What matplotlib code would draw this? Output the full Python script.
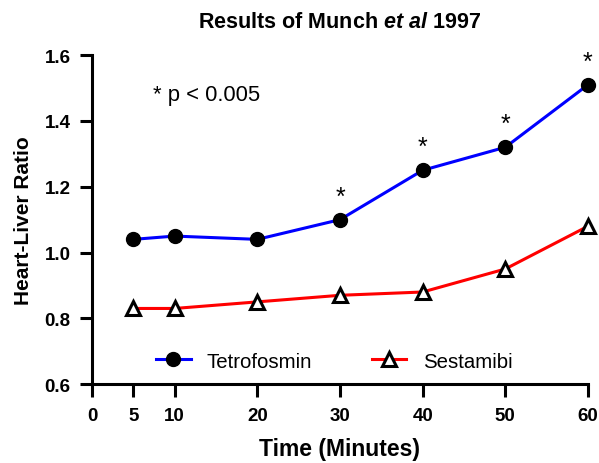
import matplotlib
matplotlib.use("Agg")
import matplotlib.pyplot as plt

plt.rcParams['font.family'] = ['Liberation Sans', 'DejaVu Sans']
plt.rcParams['mathtext.fontset'] = 'custom'
plt.rcParams['mathtext.it'] = 'Liberation Sans:italic:bold'
plt.rcParams['mathtext.rm'] = 'Liberation Sans:bold'

times = [5, 10, 20, 30, 40, 50, 60]
tetrofosmin = [1.04, 1.05, 1.04, 1.10, 1.25, 1.32, 1.51]
sestamibi = [0.83, 0.83, 0.85, 0.87, 0.88, 0.95, 1.08]
star_times = [30, 40, 50, 60]
xticks = [0, 5, 10, 20, 30, 40, 50, 60]
yticks = [0.6, 0.8, 1.0, 1.2, 1.4, 1.6]

fig = plt.figure(figsize=(5.99, 4.64), dpi=100)
ax = fig.add_axes([0.1536, 0.170, 0.8280, 0.709])

ax.plot(times, tetrofosmin, color='#0000ff', lw=2.2, marker='o', ms=10,
        mfc='black', mec='black', label='Tetrofosmin', zorder=3)
ax.plot(times, sestamibi, color='#ff0000', lw=2.2, marker='^', ms=10,
        mfc='white', mec='black', mew=2.2, label='Sestamibi', zorder=3)

for t in star_times:
    v = tetrofosmin[times.index(t)]
    ax.annotate('*', (t, v), xytext=(0, 8), textcoords='offset points',
                ha='center', va='bottom', fontsize=18)

ax.text(7.4, 1.48, '* p < 0.005', fontsize=15.8, ha='left', va='center')

ax.set_xlim(0, 60)
ax.set_ylim(0.6, 1.6)
ax.set_xticks(xticks)
ax.set_yticks(yticks)
ax.set_xticklabels([str(x) for x in xticks], fontweight='bold', fontsize=13.5)
ax.set_yticklabels([f'{y:.1f}' for y in yticks], fontweight='bold', fontsize=13.5)
for s in ['top', 'right']:
    ax.spines[s].set_visible(False)
for s in ['left', 'bottom']:
    ax.spines[s].set_linewidth(2.2)
ax.tick_params(width=2.2, length=9)
ax.tick_params(axis='x', pad=7.5)
ax.tick_params(axis='y', pad=6.5)
for l in ax.lines:
    l.set_clip_on(False)

ax.set_xlabel('Time (Minutes)', fontweight='bold', fontsize=16.5, labelpad=9)
ax.set_ylabel('Heart-Liver Ratio', fontweight='bold', fontsize=15, labelpad=8)
ax.set_title(r'Results of Munch $\mathit{et\ al}$ 1997', fontweight='bold', fontsize=15.5, pad=20)

ax.legend(loc='center', bbox_to_anchor=(0.488, 0.07), ncol=2, frameon=False,
          fontsize=14.7, handlelength=1.7, handletextpad=0.8, columnspacing=2.9)

fig.savefig('out.png', dpi=100)
